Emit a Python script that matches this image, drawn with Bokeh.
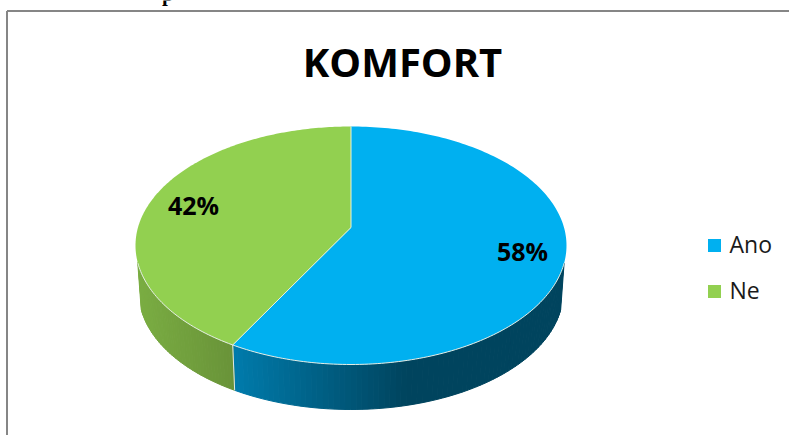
import math
from bokeh.embed import file_html
from bokeh.models import Range1d
from bokeh.plotting import figure
from bokeh.resources import INLINE
from bokeh.core.properties import value

TITLE = "KOMFORT"
categories = ["Ano", "Ne"]
percent = [58, 42]
colors = ["#00B0F0", "#92D050"]

W, H = 789, 435
CX, TOP_CY, TOP_RX, TOP_RY = 350.5, 245.0, 215.5, 119.0
BOT_CY, BOT_RX, BOT_RY = 292.0, 212.0, 117.0
APEX = 0.151  # perspective shift of pie centre


def persp(theta):
    """Circle angle (clockwise from top) -> normalised ellipse coords (x right, y up)."""
    u, v = math.sin(theta), math.cos(theta)
    d = 1 + APEX * v
    return u * math.sqrt(1 - APEX ** 2) / d, (v + APEX) / d


def top(nx, ny):
    return CX + TOP_RX * nx, TOP_CY - TOP_RY * ny


def bot(nx, ny):
    return CX + BOT_RX * nx, BOT_CY - BOT_RY * ny


def lerp(a, b, f):
    return tuple(int(round(a[i] + (b[i] - a[i]) * f)) for i in range(3))


def side_color(i, x):
    if i == 0:  # blue: lighter near split, dark from about x=400 onward
        f = min(max((x - 236) / 170, 0), 1)
        return "#%02x%02x%02x" % lerp((0, 122, 170), (0, 68, 94), f)
    f = min(max((x - 136) / 100, 0), 1)
    return "#%02x%02x%02x" % lerp((122, 173, 66), (104, 146, 56), f)


p = figure(width=W, height=H, output_backend="svg", toolbar_location=None,
           x_range=Range1d(0, W), y_range=Range1d(H, 0),
           min_border=0, outline_line_color=None, background_fill_color="white")
p.axis.visible = False
p.grid.visible = False

# chart frame, running off the page on the right and bottom
p.line([6.5, 6.5], [H + 5, 10.5], line_color="#868686", line_width=2)
p.line([6.5, W + 5], [10.5, 10.5], line_color="#868686", line_width=2)

# clipped line of body text above the frame
p.text([161.5], [-7], text=["p"], text_font=value("Liberation Serif"),
       text_font_style="bold", text_font_size="21px", text_color="black",
       text_baseline="alphabetic")

# slice boundaries as circle angles
total = sum(percent)
bounds = [0.0]
for val in percent:
    bounds.append(bounds[-1] + val / total * 2 * math.pi)

# side wall: only the part below the visible silhouette start
xs, ys, fills = [], [], []
for i in range(len(percent)):
    n = 160
    a0, a1 = bounds[i], bounds[i + 1]
    for k in range(n):
        t0 = a0 + (a1 - a0) * k / n
        t1 = a0 + (a1 - a0) * (k + 1) / n
        p0, p1 = persp(t0), persp(t1)
        if p0[1] > -0.14 or p1[1] > -0.14:
            continue
        x0, y0 = top(*p0)
        x1, y1 = top(*p1)
        x2, y2 = bot(*p1)
        x3, y3 = bot(*p0)
        xs.append([x0, x1, x2, x3])
        ys.append([y0, y1, y2, y3])
        fills.append(side_color(i, (x0 + x1) / 2))
p.patches(xs, ys, fill_color=fills, line_color=fills, line_width=1)

# split line on the wall
sp = persp(bounds[1])
p.line([top(*sp)[0], bot(*sp)[0]], [top(*sp)[1], bot(*sp)[1]], line_color="#dfe8e8", line_width=1)

# top face
apex_x, apex_y = top(0, APEX)
for i, val in enumerate(percent):
    a0, a1 = bounds[i], bounds[i + 1]
    m = 180
    pts = [top(*persp(a0 + (a1 - a0) * k / m)) for k in range(m + 1)]
    p.patch([apex_x] + [q[0] for q in pts], [apex_y] + [q[1] for q in pts],
            fill_color=colors[i], line_color=None)

# white highlights: spokes and front rim
for b in bounds[:2]:
    q = top(*persp(b))
    p.line([apex_x, q[0]], [apex_y, q[1]], line_color="#e8f2dc", line_width=1)
rim = [top(*persp(bounds[0] + (2 * math.pi) * k / 360)) for k in range(361)]
rim = [q for q in rim if q[1] >= TOP_CY + 17]
rim.sort(key=lambda q: q[0])
p.line([q[0] for q in rim], [q[1] for q in rim], line_color="#e6eee6", line_width=1)

# title
p.text([402], [61], text=[TITLE], text_font=value("Open Sans"), text_font_style="bold",
       text_font_size="40px", text_color="black", text_align="center", text_baseline="middle")

# data labels
label_x = [522, 193]
label_y = [250, 204]
p.text(label_x, label_y, text=[f"{v}%" for v in percent], text_font=value("Open Sans"),
       text_font_style="bold", text_font_size="25px", text_color="black",
       text_align="center", text_baseline="middle")

# legend
legend_y = [245, 291]
p.scatter([714] * 2, legend_y, marker="square", size=13, fill_color=colors, line_color=None)
p.text([729] * 2, [y - 2 for y in legend_y], text=categories, text_font=value("Open Sans"),
       text_font_size="23px", text_color="#1a1a1a", text_baseline="middle")

open("out.html", "w").write(file_html(p, INLINE))
